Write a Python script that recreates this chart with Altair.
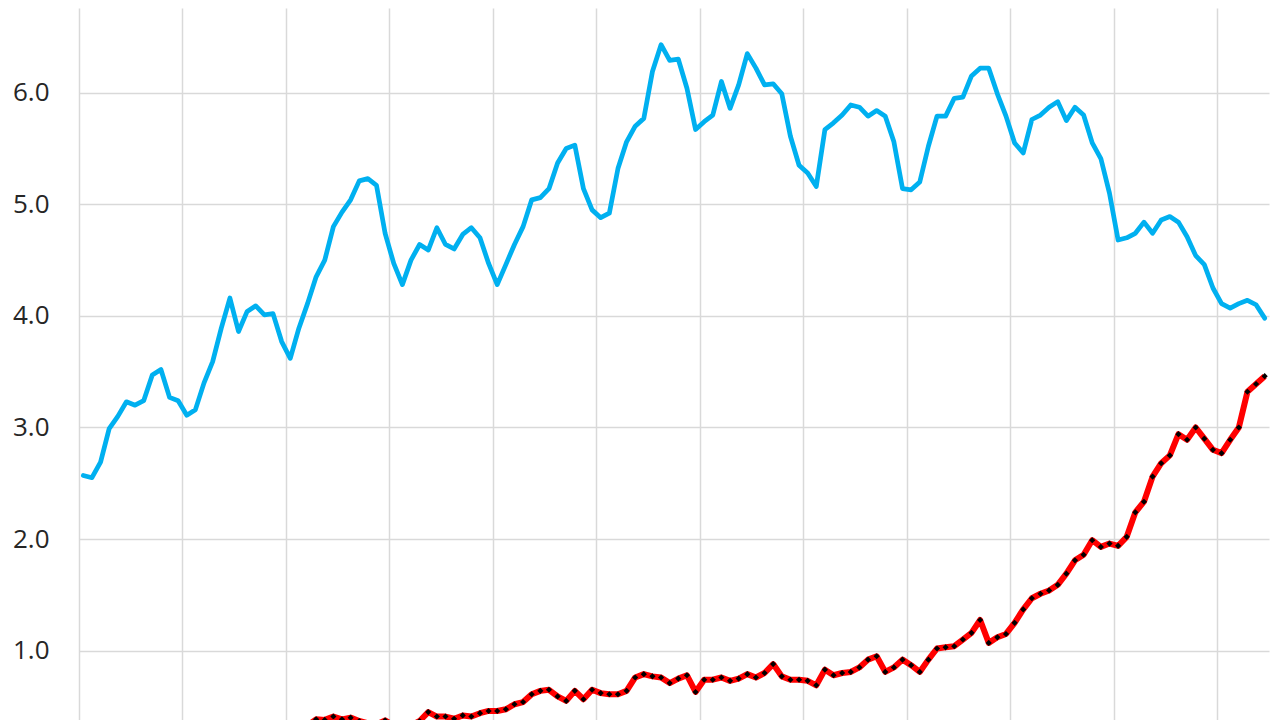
import altair as alt
import pandas as pd

# Monthly index (12 months between vertical gridlines)
month_index = list(range(138))

blue_vals = [
    2.57, 2.55, 2.69, 2.99, 3.10, 3.23, 3.20, 3.24, 3.47, 3.52, 3.27, 3.24,
    3.11, 3.16, 3.40, 3.59, 3.89, 4.16, 3.86, 4.04, 4.09, 4.01, 4.02, 3.77,
    3.62, 3.89, 4.11, 4.35, 4.50, 4.80, 4.93, 5.04, 5.21, 5.23, 5.17, 4.74,
    4.47, 4.28, 4.50, 4.64, 4.59, 4.79, 4.64, 4.60, 4.73, 4.79, 4.70, 4.47,
    4.28, 4.46, 4.64, 4.80, 5.04, 5.06, 5.14, 5.37, 5.50, 5.53, 5.14, 4.95,
    4.88, 4.92, 5.32, 5.56, 5.70, 5.77, 6.19, 6.43, 6.29, 6.30, 6.04, 5.67,
    5.74, 5.80, 6.10, 5.86, 6.07, 6.35, 6.22, 6.07, 6.08, 5.99, 5.61, 5.35,
    5.28, 5.16, 5.67, 5.73, 5.80, 5.89, 5.87, 5.79, 5.84, 5.79, 5.56, 5.14,
    5.13, 5.20, 5.52, 5.79, 5.79, 5.95, 5.96, 6.15, 6.22, 6.22, 5.99, 5.79,
    5.55, 5.46, 5.76, 5.80, 5.87, 5.92, 5.75, 5.87, 5.80, 5.55, 5.41, 5.10,
    4.68, 4.70, 4.74, 4.84, 4.74, 4.86, 4.89, 4.84, 4.71, 4.54, 4.46, 4.25,
    4.11, 4.07, 4.11, 4.14, 4.10, 3.98,
]

red_vals = [
    0.21, 0.20, 0.22, 0.23, 0.21, 0.24, 0.25, 0.23, 0.26, 0.27, 0.25, 0.26,
    0.28, 0.27, 0.29, 0.30, 0.28, 0.31, 0.30, 0.32, 0.31, 0.33, 0.32, 0.30,
    0.31, 0.32, 0.33, 0.385, 0.38, 0.41, 0.385, 0.40, 0.37, 0.35, 0.34, 0.375,
    0.33, 0.34, 0.33, 0.37, 0.45, 0.41, 0.41, 0.39, 0.42, 0.41, 0.44, 0.46,
    0.46, 0.475, 0.52, 0.54, 0.61, 0.64, 0.65, 0.59, 0.55, 0.64, 0.565, 0.65,
    0.62, 0.61, 0.61, 0.64, 0.76, 0.79, 0.77, 0.76, 0.71, 0.75, 0.78, 0.63,
    0.74, 0.74, 0.76, 0.73, 0.75, 0.79, 0.76, 0.80, 0.88, 0.77, 0.74, 0.74,
    0.73, 0.69, 0.83, 0.78, 0.80, 0.81, 0.85, 0.92, 0.95, 0.81, 0.85, 0.92,
    0.87, 0.81, 0.92, 1.02, 1.03, 1.04, 1.10, 1.16, 1.275, 1.07, 1.12, 1.15,
    1.25, 1.37, 1.47, 1.51, 1.54, 1.59, 1.69, 1.81, 1.86, 1.99, 1.93, 1.96,
    1.94, 2.02, 2.24, 2.335, 2.56, 2.68, 2.75, 2.94, 2.89, 3.00, 2.90, 2.80,
    2.77, 2.89, 3.00, 3.32, 3.39, 3.46,
]

year_gridlines = [-0.5, 11.5, 23.5, 35.5, 47.5, 59.5, 71.5, 83.5, 95.5, 107.5, 119.5, 131.5]
y_ticks = [1, 2, 3, 4, 5, 6]

df = pd.DataFrame({"month": month_index, "blue": blue_vals, "red": red_vals})

grid_color = "#d9d9d9"

x_enc = alt.X(
    "month:Q",
    scale=alt.Scale(domain=[-0.5, 137.5], nice=False, zero=False),
    axis=alt.Axis(
        values=year_gridlines, labels=False, ticks=False, domain=False,
        grid=True, gridColor=grid_color, gridWidth=1.5, title=None,
    ),
)

y_scale = alt.Scale(domain=[0.379, 6.759], nice=False, zero=False)
y_axis = alt.Axis(
    values=y_ticks, format=".1f", labelFont="Open Sans", labelFontSize=26,
    labelColor="#262626", labelPadding=30, ticks=False, tickSize=0, domain=False,
    grid=True, gridColor=grid_color, gridWidth=1.5, title=None,
)

base = alt.Chart(df)

blue_line = base.mark_line(
    color="#00B0F0", strokeWidth=4.75, strokeJoin="round", strokeCap="round", clip=True
).encode(x=x_enc, y=alt.Y("blue:Q", scale=y_scale, axis=y_axis))

red_line = base.mark_line(
    color="#FF0000", strokeWidth=6, strokeJoin="round", clip=True
).encode(x=x_enc, y=alt.Y("red:Q", scale=y_scale, axis=y_axis))

red_markers = base.mark_point(
    shape="diamond", filled=True, color="#000000", size=38, opacity=1, clip=True
).encode(x=x_enc, y=alt.Y("red:Q", scale=y_scale, axis=y_axis))

chart = (
    alt.layer(blue_line, red_line, red_markers)
    .properties(
        width=1190,
        height=712,
        autosize=alt.AutoSizeParams(type="none"),
        padding={"left": 71, "top": 0, "right": 3, "bottom": 0},
        background="white",
    )
    .configure_view(stroke=None)
)

chart.save("out.html", embed_options={"renderer": "svg", "actions": False})
